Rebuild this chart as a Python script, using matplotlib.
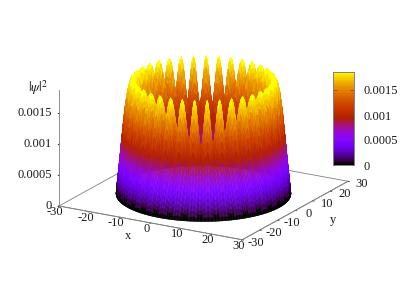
import numpy as np
import matplotlib
matplotlib.use('Agg')
import matplotlib.pyplot as plt
from mpl_toolkits.mplot3d import proj3d

plt.rcParams['font.family'] = ['Liberation Serif', 'DejaVu Serif']
plt.rcParams['mathtext.fontset'] = 'stix'

# ring profile
radius = [0, 3, 6, 9, 11, 13, 14.5, 15.5, 16.5, 17.5, 18.5, 19.25, 20, 20.75, 21.25, 21.75,
          22.25, 22.6, 22.9, 23.2, 23.5, 23.75, 24, 24.2, 24.4, 24.55, 24.7, 24.8]
peak_z = [.00062, .00066, .00075, .00085, .0009, .00095, .00105, .00118, .00132, .0015, .00172, .00183, .00187, .00183, .00175, .00162,
          .00142, .00126, .00109, .00092, .00075, .00060, .00046, .00035, .00025, .00016, .00007, 0]
valley_z = [.00062, .00066, .00075, .00085, .0009, .00095, .00098, .001, .00102, .00104, .00106, .00107, .00108, .00104, .001, .00094,
            .00087, .0008, .00072, .00063, .00052, .00042, .00032, .00024, .00016, .0001, .00004, 0]
# one lobe going round the ring, 0 = valley, 1 = crest
lobe = [1, .97, .9, .79, .66, .52, .38, .25, .14, .06, 0, .06, .14, .25, .38, .52, .66, .79, .9, .97]
n_lobes = 35
first_crest = -57  # degrees

x_ticks = [-30, -20, -10, 0, 10, 20, 30]
y_ticks = [-30, -20, -10, 0, 10, 20, 30]
z_ticks = [0, 0.0005, 0.001, 0.0015]
z_labels = ['0', '0.0005', '0.001', '0.0015']
z_max = 0.00187

W, H = 407, 285
GREY = '#808080'
INK = '#1a1a1a'
FS = 9

fig = plt.figure(figsize=(W / 100, H / 100), dpi=100)
ax = fig.add_axes([0, 0, 1, 1], projection='3d', proj_type='ortho')
ax.view_init(elev=18.6, azim=-60)
ax.set_box_aspect((1, 1, 0.577), zoom=1)
ax.set_xlim(-30, 30)
ax.set_ylim(-30, 30)
ax.set_zlim(0, z_max)

cmap = plt.get_cmap('gnuplot', 22)

r = np.array(radius)
pattern = np.tile(lobe, n_lobes)
pattern = np.append(pattern, pattern[0])
theta = np.linspace(0, 2 * np.pi, len(pattern)) + np.radians(first_crest)
T, R = np.meshgrid(theta, r)
Z = np.array(valley_z)[:, None] + (np.array(peak_z) - np.array(valley_z))[:, None] * pattern[None, :]
X = R * np.cos(T)
Y = R * np.sin(T)

Zc = (Z[:-1, :-1] + Z[1:, :-1] + Z[:-1, 1:] + Z[1:, 1:]) / 4
colors = cmap(Zc / z_max)
surf = ax.plot_surface(X, Y, Z, facecolors=colors, rstride=1, cstride=1,
                       shade=False, linewidth=0.3, antialiased=True)
surf.set_edgecolor(colors.reshape(-1, 4))

# base frame
ax.plot([-30, 30, 30, -30, -30], [-30, -30, 30, 30, -30], [0, 0, 0, 0, 0], color=GREY, lw=0.6, zorder=0)

ax.set_xticks(x_ticks)
ax.set_yticks(y_ticks)
ax.set_zticks(z_ticks)
ax.set_xticklabels([])
ax.set_yticklabels([])
ax.set_zticklabels([])
ax.grid(False)
for axis in (ax.xaxis, ax.yaxis, ax.zaxis):
    axis.set_pane_color((1, 1, 1, 0))
    axis.pane.set_edgecolor((1, 1, 1, 0))
    axis.line.set_color(GREY)
    axis.line.set_linewidth(0.6)
    axis._axinfo['tick']['color'] = GREY
    axis._axinfo['tick']['linewidth'] = {True: 0.5, False: 0.5}
    axis._axinfo['tick']['inward_factor'] = 0.1
    axis._axinfo['tick']['outward_factor'] = 0.0
ax.zaxis.set_ticks_position('lower')

# place the box so its corners land where the reference has them
M = ax.get_proj()
xl, yl, _ = proj3d.proj_transform(-30, -30, 0, M)
xr, yr, _ = proj3d.proj_transform(30, 30, 0, M)
x0, x1 = ax.viewLim.intervalx
y0, y1 = ax.viewLim.intervaly
size = (348 - 59) / (xr - xl) * (x1 - x0)
left = 59 - (xl - x0) / (x1 - x0) * size
bottom = (H - 206) - (yl - y0) / (y1 - y0) * size
ax.set_position([left / W, bottom / H, size / W, size / H])


def tick_label(s, x, y, z, dx, dy, ha='center'):
    px, py, _ = proj3d.proj_transform(x, y, z, M)
    ax.annotate(s, xy=(px, py), xytext=(dx, dy), textcoords='offset pixels', fontsize=FS,
                ha=ha, va='center', color=INK, annotation_clip=False)


for v in x_ticks:
    tick_label(str(v), v, -30, 0, -4, -6)
for v in y_ticks:
    tick_label(str(v), 30, v, 0, 14, -3)
for v, s in zip(z_ticks, z_labels):
    tick_label(s, -30, -30, v, -7, 0, ha='right')

fig.text(128 / W, 1 - 236 / H, 'x', fontsize=FS, ha='center', va='center', color=INK)
fig.text(333 / W, 1 - 220 / H, 'y', fontsize=FS, ha='center', va='center', color=INK)
fig.text(38 / W, 1 - 88 / H, r'$|\psi|^2$', fontsize=10, ha='center', va='center', color=INK)

# colour box
cax = fig.add_axes([333 / W, 1 - 165 / H, 20.5 / W, 93.5 / H])
grad = np.linspace(0, 1, 128)[:, None]
cax.imshow(grad, origin='lower', aspect='auto', cmap=plt.get_cmap('gnuplot', 64), extent=[0, 1, 0, z_max])
cax.set_xticks([])
cax.set_yticks(z_ticks)
cax.set_yticklabels(z_labels, fontsize=FS, color=INK)
cax.yaxis.tick_right()
cax.tick_params(axis='y', direction='in', length=3, width=0.5, color='#505050', pad=7, right=True, left=True)
for s in cax.spines.values():
    s.set_color(GREY)
    s.set_linewidth(0.7)

fig.savefig('out.png', dpi=100)
